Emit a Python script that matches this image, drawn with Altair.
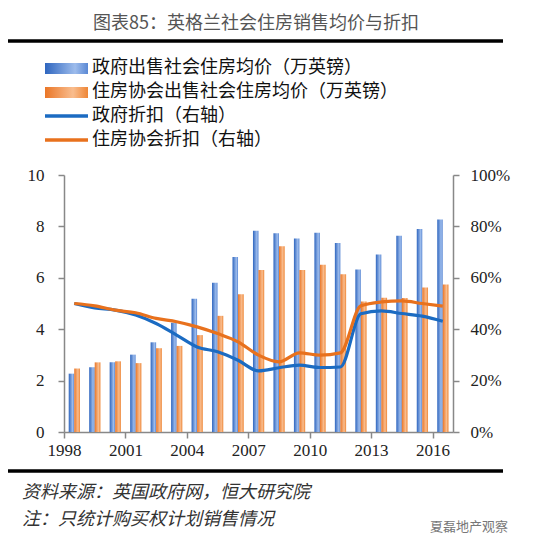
import altair as alt
import pandas as pd

years = list(range(1998, 2017))
gov_price = [2.27, 2.52, 2.71, 3.01, 3.49, 4.25, 5.18, 5.81, 6.81, 7.83, 7.73, 7.53, 7.75, 7.35, 6.32, 6.91, 7.64, 7.90, 8.27]
ha_price = [2.47, 2.71, 2.75, 2.68, 3.26, 3.35, 3.77, 4.52, 5.36, 6.30, 7.23, 6.30, 6.51, 6.14, 5.08, 5.22, 5.21, 5.62, 5.74]
gov_disc = [0.500, 0.483, 0.474, 0.455, 0.422, 0.377, 0.331, 0.312, 0.279, 0.238, 0.250, 0.260, 0.251, 0.253, 0.460, 0.471, 0.461, 0.451, 0.431]
ha_disc = [0.500, 0.491, 0.474, 0.464, 0.442, 0.429, 0.409, 0.383, 0.351, 0.299, 0.273, 0.308, 0.299, 0.308, 0.491, 0.506, 0.510, 0.500, 0.490]

s_gov_price = "政府出售社会住房均价（万英镑）"
s_ha_price = "住房协会出售社会住房均价（万英镑）"
s_gov_disc = "政府折扣（右轴）"
s_ha_disc = "住房协会折扣（右轴）"
title_text = "图表85：英格兰社会住房销售均价与折扣"
source_text = "资料来源：英国政府网，恒大研究院"
note_text = "注：只统计购买权计划销售情况"
mark_text = "夏磊地产观察"

CJK = "Noto Sans CJK SC"
SERIF = "Liberation Serif"

bars_df = pd.DataFrame({"year": years, "gov": gov_price, "ha": ha_price})
lines_df = pd.DataFrame({
    "year": years * 2,
    "pct": gov_disc + ha_disc,
    "series": [s_gov_disc] * len(years) + [s_ha_disc] * len(years),
})

blue_grad = alt.Gradient(gradient="linear", x1=0, x2=1, y1=0, y2=0, stops=[
    alt.GradientStop(color="#2f66bf", offset=0),
    alt.GradientStop(color="#9dbcec", offset=0.7),
    alt.GradientStop(color="#5a88d4", offset=1)])
orange_grad = alt.Gradient(gradient="linear", x1=0, x2=1, y1=0, y2=0, stops=[
    alt.GradientStop(color="#ea7627", offset=0),
    alt.GradientStop(color="#f9bd8e", offset=0.65),
    alt.GradientStop(color="#ee8636", offset=1)])

xscale = alt.Scale(domain=[1998, 2017], nice=False, zero=False)
xaxis = alt.Axis(values=[1998, 2001, 2004, 2007, 2010, 2013, 2016], format="d", title=None,
                 labelFont=SERIF, labelFontSize=17, labelColor="#222", tickSize=6,
                 labelPadding=4, domainColor="#888", tickColor="#888", domainWidth=1.5,
                 tickWidth=1.5, grid=False, labelFlush=False)
yscale_l = alt.Scale(domain=[0, 10], nice=False)
yaxis_l = alt.Axis(values=[0, 2, 4, 6, 8, 10], title=None, labelFont=SERIF, labelFontSize=17,
                   labelColor="#222", tickSize=6, labelPadding=14, domainColor="#888",
                   tickColor="#888", domainWidth=1.5, tickWidth=1.5, grid=False, orient="left")

blue_bars = alt.Chart(bars_df).transform_calculate(
    x0="datum.year + 0.23", x1="datum.year + 0.5"
).mark_rect(color=blue_grad).encode(
    x=alt.X("x0:Q", scale=xscale, axis=xaxis),
    x2="x1:Q",
    y=alt.Y("gov:Q", scale=yscale_l, axis=yaxis_l),
    y2=alt.datum(0),
)
orange_bars = alt.Chart(bars_df).transform_calculate(
    x0="datum.year + 0.5", x1="datum.year + 0.78"
).mark_rect(color=orange_grad).encode(
    x=alt.X("x0:Q", scale=xscale, axis=xaxis),
    x2="x1:Q",
    y=alt.Y("ha:Q", scale=yscale_l, axis=yaxis_l),
    y2=alt.datum(0),
)
bars = alt.layer(blue_bars, orange_bars)

lines = alt.Chart(lines_df).transform_calculate(
    xc="datum.year + 0.5"
).mark_line(strokeWidth=3.2, interpolate="monotone").encode(
    x=alt.X("xc:Q", scale=xscale, axis=xaxis),
    y=alt.Y("pct:Q", scale=alt.Scale(domain=[0, 1], nice=False),
            axis=alt.Axis(values=[0, 0.2, 0.4, 0.6, 0.8, 1.0], format=".0%", title=None,
                          orient="right", labelFont=SERIF, labelFontSize=17, labelColor="#222",
                          tickSize=6, labelPadding=11, domainColor="#888", tickColor="#888",
                          domainWidth=1.5, tickWidth=1.5, grid=False)),
    color=alt.Color("series:N", scale=alt.Scale(domain=[s_gov_disc, s_ha_disc],
                                               range=["#1b6bc2", "#e8711d"]), legend=None),
)

one = pd.DataFrame({"a": [0]})

def txt(text, x, y, size, color="#111", font=CJK, style="normal", align="left", weight="normal"):
    return alt.Chart(one).mark_text(text=text, align=align, baseline="middle", font=font,
                                    fontSize=size, color=color, fontStyle=style,
                                    fontWeight=weight).encode(x=alt.value(x), y=alt.value(y))

def rule(x, x2, y, color, w):
    return alt.Chart(one).mark_rule(color=color, strokeWidth=w).encode(
        x=alt.value(x), x2=alt.value(x2), y=alt.value(y))

def rect(x, x2, y, y2, fill):
    return alt.Chart(one).mark_rect(color=fill).encode(
        x=alt.value(x), x2=alt.value(x2), y=alt.value(y), y2=alt.value(y2))

decor = [
    txt(title_text, 192, -151, 18, color="#555", align="center"),
    rule(-56, 439, -134, "#000", 3.5),
    rect(-19, 24, -112, -101, blue_grad),
    rect(-19, 24, -88, -77, orange_grad),
    rule(-19, 24, -59, "#1b6bc2", 3.5),
    rule(-19, 24, -35, "#e8711d", 3.5),
    txt(s_gov_price, 28, -107, 18),
    txt(s_ha_price, 28, -83, 18),
    txt(s_gov_disc, 28, -59, 18),
    txt(s_ha_disc, 28, -35, 18),
    rule(-56, 439, 296, "#000", 3.5),
    txt(source_text, -42, 318, 18, color="#333", style="italic"),
    txt(note_text, -42, 345, 18, color="#333", style="italic"),
    txt(mark_text, 366, 352, 13, color="#777"),
]

chart = alt.layer(bars, lines, *decor).resolve_scale(y="independent").properties(
    width=389, height=257,
    autosize=alt.AutoSizeParams(type="none"),
    padding={"left": 56, "top": 167, "right": 89, "bottom": 110},
).configure_view(stroke=None)

chart.save("out.html", embed_options={"renderer": "svg", "actions": False})
